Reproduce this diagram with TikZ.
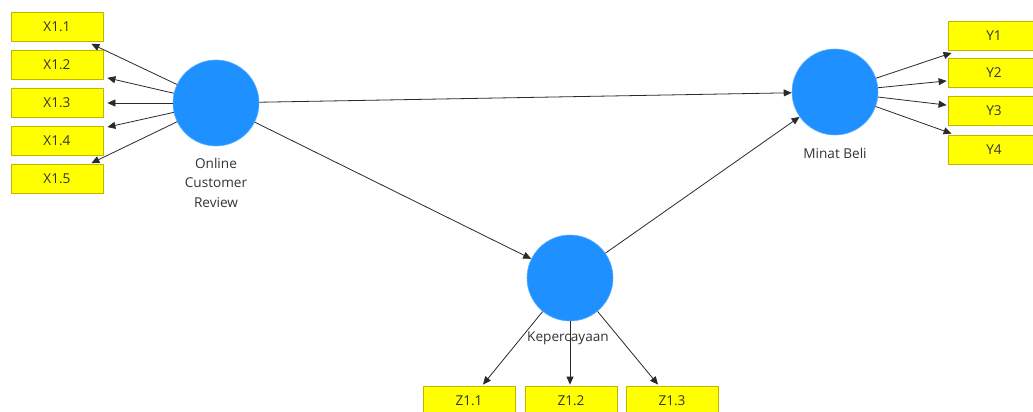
\documentclass[tikz,border=0pt]{standalone}
\usepackage{fontspec}
\setmainfont{Open Sans}
\usetikzlibrary{arrows.meta,calc}
\definecolor{lvblue}{HTML}{1E90FF}
\definecolor{indyel}{HTML}{FFFF00}
\definecolor{indbrd}{HTML}{C2B400}
\definecolor{txt}{HTML}{333333}
\definecolor{ln}{HTML}{2A2A2A}
\tikzset{
  ind/.style={rectangle, draw=indbrd, line width=0.8pt, fill=indyel, minimum width=92pt, minimum height=29pt, inner sep=0pt, text=txt, font=\fontsize{13.6}{15}\selectfont},
  lv/.style={circle, fill=lvblue, draw=lvblue!70, line width=0.6pt, minimum size=86pt, inner sep=0pt},
  lbl/.style={text=txt, font=\fontsize{13.6}{19.5}\selectfont, align=center, inner sep=0pt},
  conn/.style={draw=ln, line width=0.8pt, -{Triangle[length=8pt,width=7pt]}}
}
\begin{document}
\begin{tikzpicture}[x=1pt,y=-1pt]
\fill[white] (0,0) rectangle (1033,412);
\useasboundingbox (0,0) rectangle (1033,412);
\clip (0,0) rectangle (1033,412);
% indicators X
\node[ind] (x11) at (57,27) {X1.1};
\node[ind] (x12) at (57,65) {X1.2};
\node[ind] (x13) at (57,103) {X1.3};
\node[ind] (x14) at (57,141) {X1.4};
\node[ind] (x15) at (57,179) {X1.5};
% indicators Y
\node[ind] (y1) at (994,36) {Y1};
\node[ind] (y2) at (994,73) {Y2};
\node[ind] (y3) at (994,111) {Y3};
\node[ind] (y4) at (994,149.5) {Y4};
% indicators Z
\node[ind] (z11) at (469,400.5) {Z1.1};
\node[ind] (z12) at (571,400.5) {Z1.2};
\node[ind] (z13) at (672,400.5) {Z1.3};
% latent variables
\node[lv] (ocr) at (216,103) {};
\node[lv] (mb) at (835,92) {};
\node[lv] (kp) at (570,278) {};
\node[lbl] (ocrl) at (216,182.5) {Online\\Customer\\Review};
\node[lbl] (mbl) at (835,153) {Minat Beli};
\node[lbl] (kpl) at (568,338) {Kepercayaan};
% outer loadings
\draw[conn] (ocr) -- ([xshift=-12pt,yshift=-2pt]x11.south east);
\draw[conn] (ocr) -- ([xshift=4pt,yshift=2pt]x12.south east);
\draw[conn] (ocr) -- ([xshift=4pt]x13.east);
\draw[conn] (ocr) -- ([xshift=4pt,yshift=-1pt]x14.north east);
\draw[conn] (ocr) -- ([xshift=-12pt,yshift=1pt]x15.north east);
\draw[conn] (mb) -- ([xshift=4pt,yshift=-2pt]y1.south west);
\draw[conn] (mb) -- ([xshift=-1pt,yshift=7pt]y2.south west);
\draw[conn] (mb) -- ([xshift=-1pt,yshift=-9pt]y3.north west);
\draw[conn] (mb) -- ([xshift=4pt,yshift=1pt]y4.north west);
\draw[conn] (kp) -- ([xshift=14pt,yshift=1pt]z11.north);
\draw[conn] (kp) -- ([xshift=-1pt,yshift=1pt]z12.north);
\draw[conn] (kp) -- ([xshift=-14pt,yshift=1pt]z13.north);
% inner paths
\draw[conn] (ocr) -- (mb);
\draw[conn] (ocr) -- (kp);
\draw[conn] (kp) -- (mb);
\end{tikzpicture}
\end{document}
